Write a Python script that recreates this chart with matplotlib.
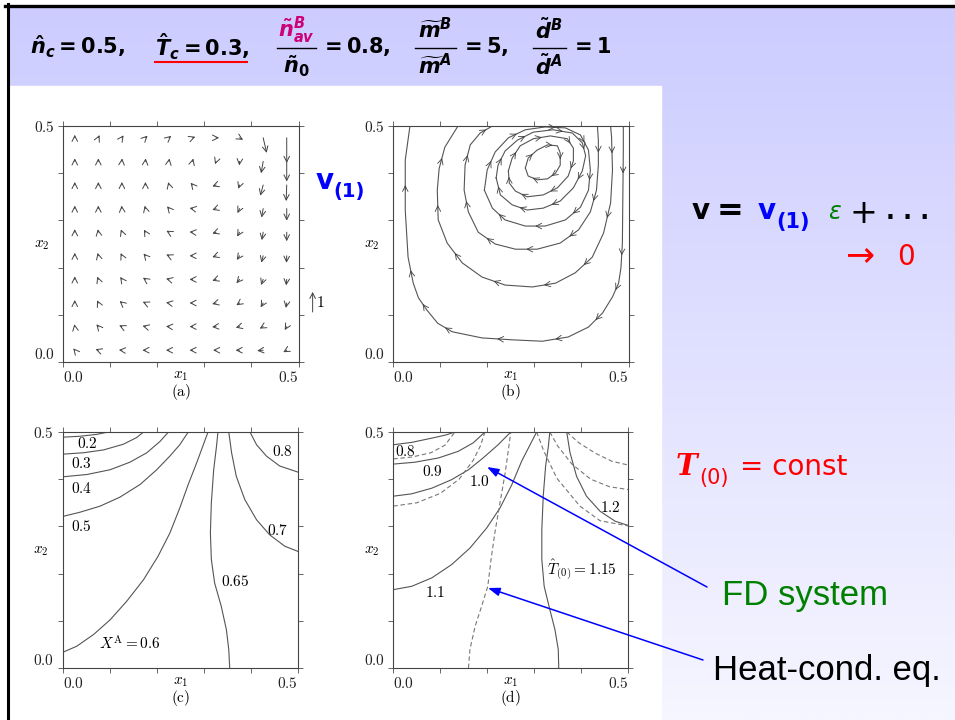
import numpy as np
import matplotlib.pyplot as plt
from matplotlib.patches import Rectangle
from matplotlib.colors import LinearSegmentedColormap

plt.rcParams['mathtext.fontset'] = 'cm'
plt.rcParams['font.family'] = 'DejaVu Sans'
plt.rcParams['mathtext.rm'] = 'DejaVu Sans:bold'
plt.rcParams['mathtext.it'] = 'DejaVu Sans:italic:bold'
plt.rcParams['mathtext.bf'] = 'DejaVu Sans:bold'

# ---- (a) velocity field v(1): grid, arrow angle (deg) and length, rows top -> bottom
grid_x = [0.025, 0.075, 0.125, 0.175, 0.225, 0.275, 0.325, 0.375, 0.425, 0.475]
grid_y = [0.475, 0.425, 0.375, 0.325, 0.275, 0.225, 0.175, 0.125, 0.075, 0.025]
vel_angle = [
    [90, 65, 55, 45, 40, 20, 0, -30, -77, -90],
    [90, 90, 85, 85, 80, 75, -110, -95, -100, -90],
    [90, 90, 90, 90, 105, 130, 200, -110, -105, -92],
    [90, 90, 95, 105, 130, 170, 200, -115, -100, -90],
    [90, 100, 110, 120, 150, 175, 200, -120, -100, -90],
    [90, 105, 115, 130, 155, 180, 200, -125, -105, -92],
    [90, 110, 125, 145, 165, 180, 200, 230, -110, -95],
    [90, 115, 140, 155, 170, 180, 195, 215, 240, -100],
    [100, 130, 155, 165, 175, 180, 185, 195, 210, 240],
    [130, 160, 175, 180, 180, 180, 180, 180, 185, 210],
]
vel_mag = [
    [0.15, 0.15, 0.15, 0.15, 0.15, 0.15, 0.15, 0.2, 0.77, 1.25],
    [0.15, 0.15, 0.15, 0.15, 0.15, 0.15, 0.15, 0.2, 0.6, 1.0],
    [0.15, 0.15, 0.15, 0.15, 0.15, 0.15, 0.2, 0.2, 0.55, 0.8],
    [0.15, 0.15, 0.15, 0.15, 0.15, 0.15, 0.2, 0.25, 0.45, 0.6],
    [0.15, 0.15, 0.15, 0.15, 0.15, 0.15, 0.2, 0.25, 0.4, 0.45],
    [0.15, 0.15, 0.15, 0.15, 0.15, 0.15, 0.2, 0.25, 0.35, 0.35],
    [0.15, 0.15, 0.15, 0.15, 0.15, 0.15, 0.2, 0.25, 0.3, 0.3],
    [0.15, 0.15, 0.15, 0.15, 0.15, 0.15, 0.2, 0.2, 0.25, 0.25],
    [0.12, 0.15, 0.15, 0.15, 0.15, 0.15, 0.2, 0.2, 0.2, 0.2],
    [0.12, 0.15, 0.15, 0.15, 0.15, 0.15, 0.15, 0.2, 0.3, 0.2],
]

# ---- (b) streamlines (x, y) in flow direction
stream_7 = [(0.489, 0.5), (0.489, 0.449), (0.488, 0.35), (0.487, 0.252), (0.484, 0.2), (0.479, 0.167),
            (0.466, 0.138), (0.445, 0.104), (0.415, 0.074), (0.372, 0.053), (0.317, 0.044), (0.253, 0.047),
            (0.189, 0.051), (0.126, 0.064), (0.095, 0.082), (0.072, 0.110), (0.054, 0.136), (0.043, 0.167),
            (0.032, 0.222), (0.026, 0.322), (0.026, 0.428), (0.036, 0.5)]
stream_6 = [(0.462, 0.5), (0.464, 0.477), (0.466, 0.407), (0.462, 0.337), (0.447, 0.273), (0.423, 0.222),
            (0.387, 0.189), (0.345, 0.167), (0.296, 0.159), (0.238, 0.163), (0.189, 0.180), (0.147, 0.210),
            (0.115, 0.252), (0.096, 0.301), (0.094, 0.364), (0.098, 0.41), (0.110, 0.455), (0.138, 0.5)]
stream_5 = [(0.434, 0.5), (0.436, 0.470), (0.436, 0.417), (0.432, 0.364), (0.419, 0.318), (0.394, 0.280),
            (0.355, 0.252), (0.306, 0.239), (0.260, 0.239), (0.217, 0.250), (0.181, 0.275), (0.160, 0.318),
            (0.151, 0.364), (0.153, 0.417), (0.164, 0.460), (0.185, 0.485), (0.211, 0.5)]
stream_4 = [(0.194, 0.364), (0.200, 0.407), (0.217, 0.445), (0.245, 0.475), (0.281, 0.492), (0.323, 0.498),
            (0.366, 0.496), (0.398, 0.481), (0.415, 0.449), (0.419, 0.407), (0.415, 0.364), (0.398, 0.328),
            (0.366, 0.301), (0.323, 0.288), (0.281, 0.288), (0.238, 0.301), (0.211, 0.326), (0.194, 0.364)]
stream_3 = [(0.219, 0.390), (0.223, 0.417), (0.238, 0.447), (0.264, 0.470), (0.298, 0.487), (0.340, 0.492),
            (0.381, 0.485), (0.402, 0.464), (0.409, 0.437), (0.402, 0.405), (0.383, 0.369), (0.355, 0.341),
            (0.319, 0.326), (0.285, 0.322), (0.253, 0.333), (0.228, 0.354), (0.219, 0.390)]
stream_2 = [(0.245, 0.405), (0.253, 0.432), (0.270, 0.458), (0.298, 0.473), (0.334, 0.479), (0.370, 0.473),
            (0.383, 0.453), (0.383, 0.426), (0.372, 0.394), (0.349, 0.369), (0.319, 0.354), (0.285, 0.350),
            (0.260, 0.362), (0.247, 0.379), (0.245, 0.405)]
stream_1 = [(0.281, 0.411), (0.287, 0.432), (0.306, 0.449), (0.328, 0.460), (0.349, 0.458), (0.355, 0.443),
            (0.355, 0.417), (0.345, 0.400), (0.328, 0.388), (0.306, 0.386), (0.287, 0.394), (0.281, 0.411)]
streams = [stream_7, stream_6, stream_5, stream_4, stream_3, stream_2, stream_1]

# ---- (c) mole fraction X^A contours
xa_levels = ['0.2', '0.3', '0.4', '0.5', '0.6', '0.65', '0.7', '0.8']
xa_lines = [
    [(0, 0.489), (0.037, 0.491), (0.073, 0.495), (0.097, 0.5)],
    [(0, 0.453), (0.044, 0.456), (0.087, 0.462), (0.129, 0.474), (0.157, 0.488), (0.172, 0.5)],
    [(0, 0.405), (0.052, 0.410), (0.101, 0.420), (0.143, 0.436), (0.179, 0.456), (0.207, 0.480), (0.225, 0.5)],
    [(0, 0.321), (0.037, 0.330), (0.080, 0.343), (0.122, 0.362), (0.165, 0.389), (0.200, 0.420),
     (0.228, 0.449), (0.249, 0.473), (0.267, 0.5)],
    [(0, 0.033), (0.030, 0.046), (0.066, 0.071), (0.101, 0.102), (0.136, 0.141), (0.172, 0.187),
     (0.203, 0.237), (0.228, 0.286), (0.249, 0.339), (0.267, 0.389), (0.285, 0.435), (0.299, 0.473), (0.309, 0.5)],
    [(0.355, 0), (0.353, 0.039), (0.348, 0.081), (0.337, 0.131), (0.323, 0.180), (0.316, 0.230),
     (0.314, 0.286), (0.316, 0.350), (0.321, 0.420), (0.327, 0.470), (0.330, 0.5)],
    [(0.353, 0.5), (0.359, 0.456), (0.369, 0.406), (0.387, 0.357), (0.412, 0.314), (0.440, 0.282),
     (0.472, 0.258), (0.5, 0.247)],
    [(0.398, 0.5), (0.412, 0.473), (0.433, 0.449), (0.461, 0.428), (0.5, 0.415)],
]
xa_label_pos = [(0.052, 0.475), (0.041, 0.434), (0.041, 0.381), (0.041, 0.299),
                (0.143, 0.052), (0.367, 0.184), (0.456, 0.291), (0.467, 0.458)]

# ---- (d) temperature T(0): FD system (solid) and heat-conduction eq. (dashed)
t_levels = ['0.8', '0.9', '1.0', '1.1', '1.15', '1.2']
t_fd = [
    [(0, 0.473), (0.039, 0.478), (0.082, 0.487), (0.113, 0.494), (0.131, 0.5)],
    [(0, 0.432), (0.046, 0.436), (0.096, 0.445), (0.138, 0.459), (0.170, 0.477), (0.195, 0.5)],
    [(0, 0.364), (0.039, 0.369), (0.082, 0.381), (0.124, 0.399), (0.160, 0.420), (0.191, 0.445),
     (0.223, 0.473), (0.250, 0.5)],
    [(0, 0.166), (0.039, 0.173), (0.082, 0.191), (0.124, 0.219), (0.163, 0.254), (0.199, 0.297),
     (0.227, 0.339), (0.252, 0.388), (0.273, 0.438), (0.291, 0.473), (0.305, 0.5)],
    [(0.352, 0), (0.351, 0.039), (0.344, 0.081), (0.333, 0.124), (0.321, 0.173), (0.316, 0.230),
     (0.316, 0.293), (0.319, 0.364), (0.324, 0.427), (0.330, 0.470), (0.333, 0.5)],
    [(0.369, 0.5), (0.376, 0.456), (0.390, 0.406), (0.411, 0.364), (0.440, 0.332), (0.472, 0.311), (0.5, 0.302)],
]
t_heat = [
    [(0, 0.443), (0.04, 0.447), (0.08, 0.456), (0.11, 0.472), (0.131, 0.5)],
    [(0, 0.343), (0.05, 0.350), (0.10, 0.370), (0.14, 0.400), (0.17, 0.440), (0.185, 0.470), (0.195, 0.5)],
    [(0.160, 0), (0.163, 0.039), (0.174, 0.088), (0.188, 0.131), (0.201, 0.173), (0.208, 0.230),
     (0.216, 0.286), (0.227, 0.350), (0.238, 0.413), (0.245, 0.463), (0.250, 0.5)],
    [(0.305, 0.5), (0.320, 0.460), (0.348, 0.402), (0.397, 0.343), (0.440, 0.312), (0.5, 0.301)],
    [(0.333, 0.5), (0.350, 0.470), (0.380, 0.432), (0.420, 0.400), (0.460, 0.384), (0.5, 0.378)],
    [(0.369, 0.5), (0.395, 0.477), (0.430, 0.455), (0.465, 0.438), (0.5, 0.430)],
]
t_label_pos = [(0.025, 0.458), (0.083, 0.417), (0.184, 0.395), (0.090, 0.160), (0.401, 0.208), (0.461, 0.341)]

W, H = 955, 720
fig = plt.figure(figsize=(W / 100, H / 100), dpi=100)


def axes_px(l, t, r, b, **kw):
    return fig.add_axes([l / W, 1 - b / H, (r - l) / W, (b - t) / H], **kw)


# slide background
bg = axes_px(0, 0, W, H, zorder=-10)
cmap = LinearSegmentedColormap.from_list('slide', ['#ccccff', '#f6f6ff'])
bg.imshow(np.linspace(0, 1, 256)[:, None], cmap=cmap, extent=[8, W, H, 7], aspect='auto')
bg.add_patch(Rectangle((8, 86), 653, H - 86, color='white'))
bg.plot([5, W], [5.5, 5.5], color='black', lw=2.4)
bg.plot([7.5, 7.5], [4, H], color='black', lw=2.2)
bg.set_xlim(0, W)
bg.set_ylim(H, 0)
bg.axis('off')

LC = '#555555'


def style(ax, tag):
    ax.set_xlim(0, 0.5)
    ax.set_ylim(0, 0.5)
    ticks = np.arange(0, 0.51, 0.1)
    ax.set_xticks(ticks)
    ax.set_yticks(ticks)
    ax.set_xticklabels(['$0.0$', '', '', '', '', '$0.5$'])
    ax.set_yticklabels(['$0.0$', '', '', '', '', '$0.5$'])
    ax.tick_params(direction='out', length=3.6, width=0.7, color='#666666', top=True, right=True,
                   labelsize=11, pad=2.5, labelcolor='#222222')
    xl = ax.get_xticklabels()
    xl[0].set_ha('left')
    xl[-1].set_ha('right')
    yl = ax.get_yticklabels()
    yl[0].set_va('bottom')
    for s in ax.spines.values():
        s.set_linewidth(0.8)
        s.set_color('#444444')
    ax.text(0.5, -0.058, '$x_1$', transform=ax.transAxes, ha='center', va='center', fontsize=11)
    ax.text(0.5, -0.128, r'$\mathrm{(%s)}$' % tag, transform=ax.transAxes, ha='center', va='center', fontsize=11)
    ax.text(-0.092, 0.5, '$x_2$', transform=ax.transAxes, ha='center', va='center', fontsize=11)


def head(ax, p0, p1, lw=0.7):
    ax.annotate('', xy=p1, xytext=p0, annotation_clip=False,
                arrowprops=dict(arrowstyle='->,head_length=0.4,head_width=0.2', lw=lw,
                                color='#444444', shrinkA=0, shrinkB=0))


# (a) arrows
ax_a = axes_px(63, 126, 298.5, 362)
style(ax_a, 'a')
scale = 0.0426
for i, yv in enumerate(grid_y):
    for j, xv in enumerate(grid_x):
        ang = np.radians(vel_angle[i][j])
        m = vel_mag[i][j] * scale
        head(ax_a, (xv, yv), (xv + m * np.cos(ang), yv + m * np.sin(ang)))
head(ax_a, (0.53, 0.106), (0.53, 0.106 + scale))
ax_a.text(0.537, 0.127, '$1$', ha='left', va='center', fontsize=11)

# (b) streamlines
ax_b = axes_px(393, 126, 628.5, 362)
style(ax_b, 'b')
for line in streams:
    xs, ys = zip(*line)
    ax_b.plot(xs, ys, color=LC, lw=0.8)
    for k in range(1, len(line) - 1, 2):
        x0, y0 = line[k]
        x1, y1 = line[k + 1]
        mx, my = (x0 + x1) / 2, (y0 + y1) / 2
        head(ax_b, (mx - (x1 - x0) * 0.1, my - (y1 - y0) * 0.1), (mx, my), lw=0.6)

# (c) X^A contours
ax_c = axes_px(62.5, 432, 298, 668)
style(ax_c, 'c')
for line in xa_lines:
    xs, ys = zip(*line)
    ax_c.plot(xs, ys, color=LC, lw=0.8)
for lab, (x, y) in zip(xa_levels, xa_label_pos):
    txt = r'$X^{\mathrm{A}} = 0.6$' if lab == '0.6' else '$%s$' % lab
    ax_c.text(x, y, txt, ha='center', va='center', fontsize=11)

# (d) T contours
ax_d = axes_px(393.3, 432, 628.3, 668)
style(ax_d, 'd')
for line in t_fd:
    xs, ys = zip(*line)
    ax_d.plot(xs, ys, color=LC, lw=0.8)
for line in t_heat:
    xs, ys = zip(*line)
    ax_d.plot(xs, ys, color='#777777', lw=0.8, dashes=(4, 2.5))
for lab, (x, y) in zip(t_levels, t_label_pos):
    txt = r'$\hat{T}_{(0)} = 1.15$' if lab == '1.15' else '$%s$' % lab
    ax_d.text(x, y, txt, ha='center', va='center', fontsize=11)

# overlay: slide text and pointers
ov = axes_px(0, 0, W, H, zorder=10)
ov.patch.set_visible(False)
ov.set_xlim(0, W)
ov.set_ylim(H, 0)
ov.axis('off')

hs = 15
kw = dict(fontsize=hs, va='center', math_fontfamily='custom')
ov.text(30, 47, r'$\hat{n}_c = 0.5,$', ha='left', **kw)
ov.text(155, 47, r'$\hat{T}_c = 0.3,$', ha='left', **kw)
ov.plot([155, 247], [62, 62], color='red', lw=1.5)
# fractions
ov.text(296, 30, r'$\tilde{n}^B_{av}$', ha='center', color='#cc0077', **kw)
ov.plot([277, 316], [48, 48], color='black', lw=1.0)
ov.text(296, 66, r'$\tilde{n}_0$', ha='center', **kw)
ov.text(320, 47, r'$= 0.8,$', ha='left', **kw)
ov.text(435, 30, r'$\widetilde{m}^B$', ha='center', **kw)
ov.plot([415, 456], [48, 48], color='black', lw=1.0)
ov.text(435, 66, r'$\widetilde{m}^A$', ha='center', **kw)
ov.text(460, 47, r'$= 5,$', ha='left', **kw)
ov.text(549, 30, r'$\tilde{d}^B$', ha='center', **kw)
ov.plot([533, 566], [48, 48], color='black', lw=1.0)
ov.text(549, 66, r'$\tilde{d}^A$', ha='center', **kw)
ov.text(570, 47, r'$= 1$', ha='left', **kw)

blue = '#0000ff'
ov.text(316, 189, 'v', color=blue, fontsize=20, fontweight='bold', ha='left', va='baseline')
ov.text(333, 197, '(1)', color=blue, fontsize=14, fontweight='bold', ha='left', va='baseline')

ov.text(692, 219, 'v', color='black', fontsize=20, fontweight='bold', ha='left', va='baseline')
ov.text(717, 220, '=', color='black', fontsize=23, fontweight='bold', ha='left', va='baseline')
ov.text(758, 219, 'v', color=blue, fontsize=20, fontweight='bold', ha='left', va='baseline')
ov.text(776, 228, '(1)', color=blue, fontsize=15, fontweight='bold', ha='left', va='baseline')
ov.text(828, 219, r'$\epsilon$', color='#008000', fontsize=17, ha='left', va='baseline',
        math_fontfamily='dejavusans')
ov.text(849, 223, '+', color='black', fontsize=24, ha='left', va='baseline')
ov.text(886, 219, '. . .', color='black', fontsize=17, fontweight='bold', ha='left', va='baseline')
ov.text(845, 265, '→', color='red', fontsize=25, ha='left', va='baseline')
ov.text(897, 265, '0', color='red', fontsize=20, ha='left', va='baseline')

ov.text(676, 475, 'T', color='red', fontsize=21, fontstyle='italic', fontweight='bold', family='DejaVu Serif',
        ha='left', va='baseline')
ov.text(699, 484, '(0)', color='red', fontsize=15, ha='left', va='baseline')
ov.text(740, 475, '= const', color='red', fontsize=20, ha='left', va='baseline')

ov.text(722, 605, 'FD system', color='#008000', fontsize=25, family='Liberation Sans', ha='left', va='baseline')
ov.text(713, 680, 'Heat-cond. eq.', color='black', fontsize=25, family='Liberation Sans', ha='left',
        va='baseline')

for tail, tip in [((707, 587), (487, 467)), ((703, 660), (488, 588))]:
    ov.annotate('', xy=tip, xytext=tail,
                arrowprops=dict(arrowstyle='-|>,head_length=0.7,head_width=0.25', lw=1.1, color=blue,
                                shrinkA=0, shrinkB=0))

fig.savefig('out.png', dpi=100)
